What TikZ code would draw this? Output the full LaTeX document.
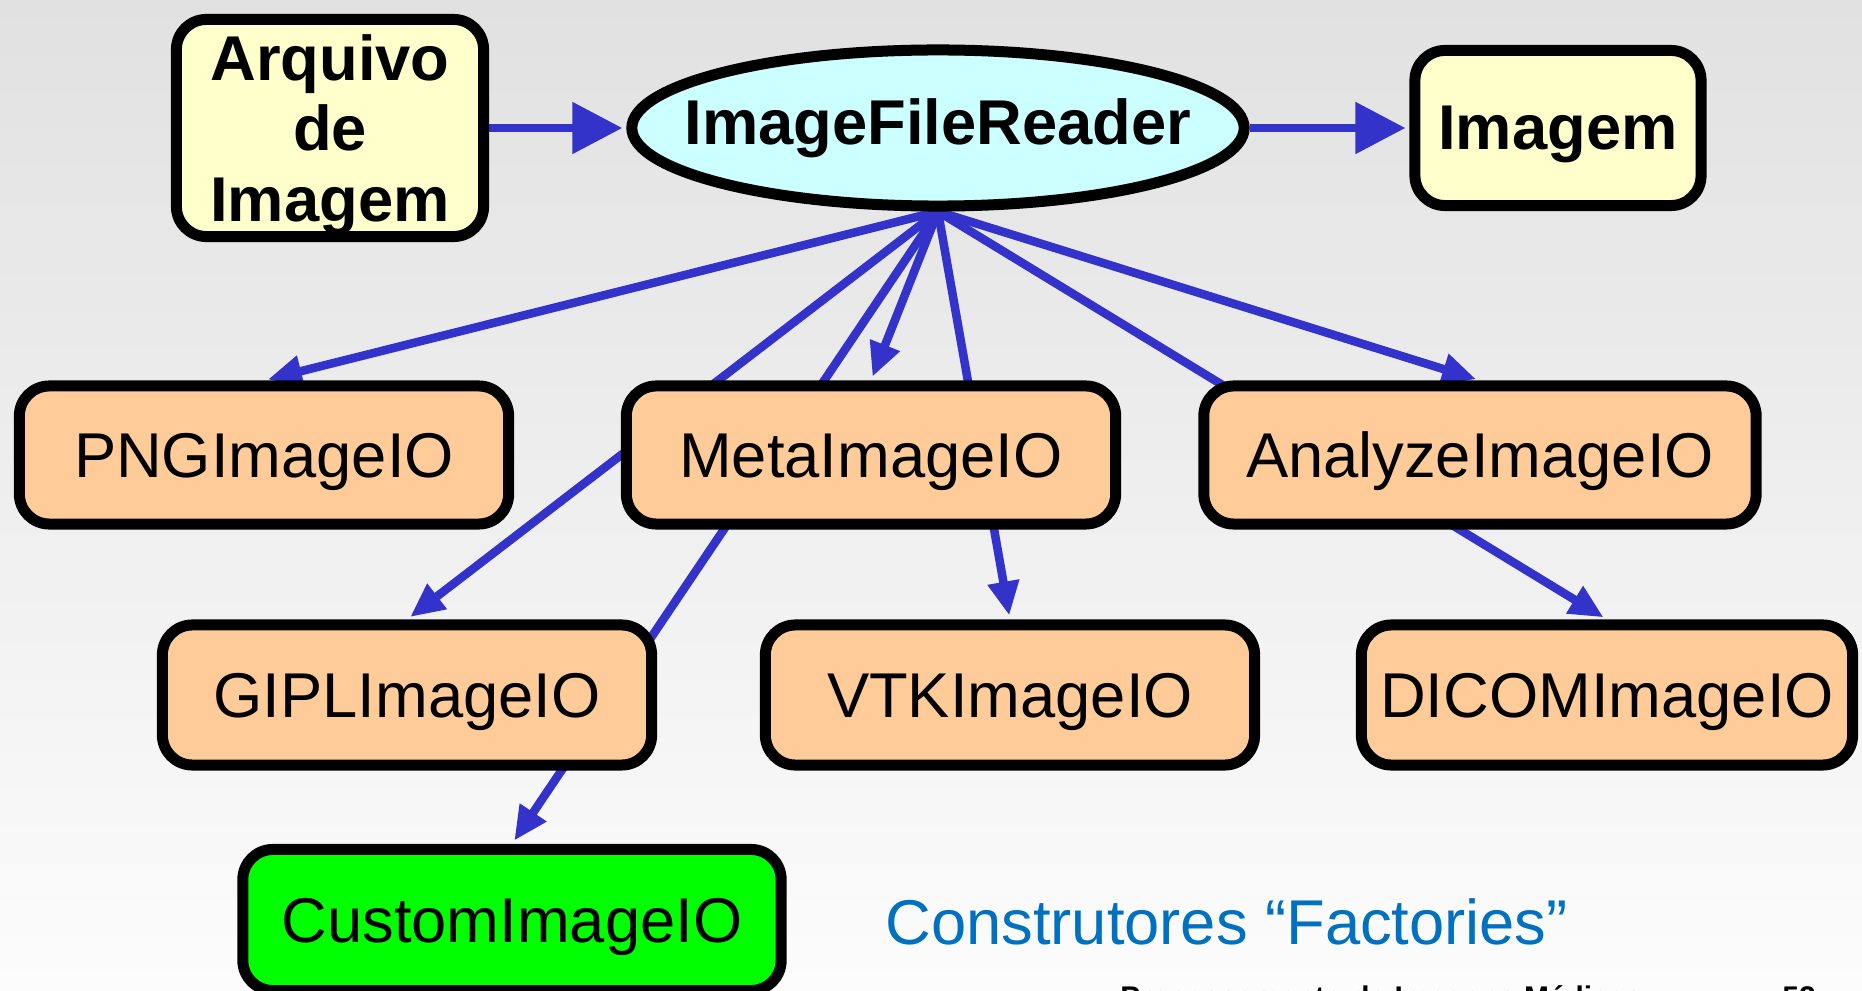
\documentclass[tikz,border=0pt]{standalone}
\usepackage{fontspec}
\setmainfont{Liberation Sans}
\usetikzlibrary{arrows.meta,shapes.geometric}
\pgfdeclarelayer{bg}
\pgfdeclarelayer{wires}
\pgfsetlayers{bg,wires,main}
\definecolor{bgtop}{RGB}{225,225,225}
\definecolor{bgbot}{RGB}{252,252,252}
\definecolor{cream}{RGB}{255,255,204}
\definecolor{icecyan}{RGB}{204,255,255}
\definecolor{peach}{RGB}{255,204,153}
\definecolor{wireblue}{RGB}{51,51,204}
\definecolor{titleblue}{RGB}{0,112,192}
\tikzset{
	box/.style={draw=black, line width=0.11cm, rounded corners=0.3cm, inner sep=0pt, text depth=0pt, align=center, font=\fontsize{18}{20}\selectfont},
	inbox/.style={box, fill=cream, font=\fontsize{18}{20}\selectfont\bfseries},
	iobox/.style={box, fill=peach, minimum width=4.89cm, minimum height=1.38cm},
	feed/.style={draw=wireblue, line width=0.085cm, -{Triangle[length=0.5cm,width=0.5cm]}, shorten >=0.04cm},
	link/.style={draw=wireblue, line width=0.085cm, -{Triangle[length=0.34cm,width=0.3cm]}, shorten >=0.04cm}
}

\begin{document}
\begin{tikzpicture}[x=0.01cm, y=-0.01cm]
	%%%%% START %%%%%
	
	\useasboundingbox (0,0) rectangle (1862,991);
	\clip (0,0) rectangle (1862,991);
	\begin{pgfonlayer}{bg}
		\shade[top color=bgtop, bottom color=bgbot] (0,0) rectangle (1862,991);
	\end{pgfonlayer}
	
	\node[inbox, minimum width=3.07cm, minimum height=2.17cm] (file) at (330,128) {Arquivo\\de\\Imagem};
	\node[ellipse, draw=black, line width=0.11cm, fill=icecyan, minimum width=6.12cm, minimum height=1.56cm, inner sep=0pt, font=\fontsize{18}{20}\selectfont\bfseries] (reader) at (938,128) {\makebox[0pt]{ImageFileReader}};
	\node[inbox, minimum width=2.86cm, minimum height=1.55cm] (image) at (1558,128) {Imagem};
	
	\node[iobox] (png) at (264,455) {PNGImageIO};
	\node[iobox] (meta) at (871,455) {MetaImageIO};
	\node[iobox, minimum width=5.52cm] (analyze) at (1480,455) {AnalyzeImageIO};
	
	\node[iobox, minimum height=1.4cm] (gipl) at (407,695) {GIPLImageIO};
	\node[iobox, minimum height=1.4cm] (vtk) at (1010,695) {VTKImageIO};
	\node[iobox, minimum width=4.91cm, minimum height=1.4cm] (dicom) at (1607,695) {DICOMImageIO};
	
	\node[box, fill=green, minimum width=5.38cm, minimum height=1.41cm] (custom) at (512,920) {CustomImageIO};
	
	\node[anchor=base west, text=titleblue, font=\fontsize{18}{20}\selectfont] (title) at (873,945) {Construtores ``Factories''};
	\node[anchor=base west, font=\fontsize{8.5}{10}\selectfont\bfseries] (footer) at (1108,1008) {Processamento de Imagens Médicas};
	\node[anchor=base west, font=\fontsize{8.5}{10}\selectfont\bfseries] (page) at (1770,1008) {52};
	
	\begin{pgfonlayer}{wires}
		\draw[feed] (file.east) -- (reader.west);
		\draw[feed] (reader.east) -- (image.west);
		\foreach \dst in {png,meta,analyze,gipl,vtk,dicom,custom}
			\draw[link] (reader.south) -- (\dst.north);
	\end{pgfonlayer}
	
	%%%%% END %%%%%
\end{tikzpicture}
\end{document}
